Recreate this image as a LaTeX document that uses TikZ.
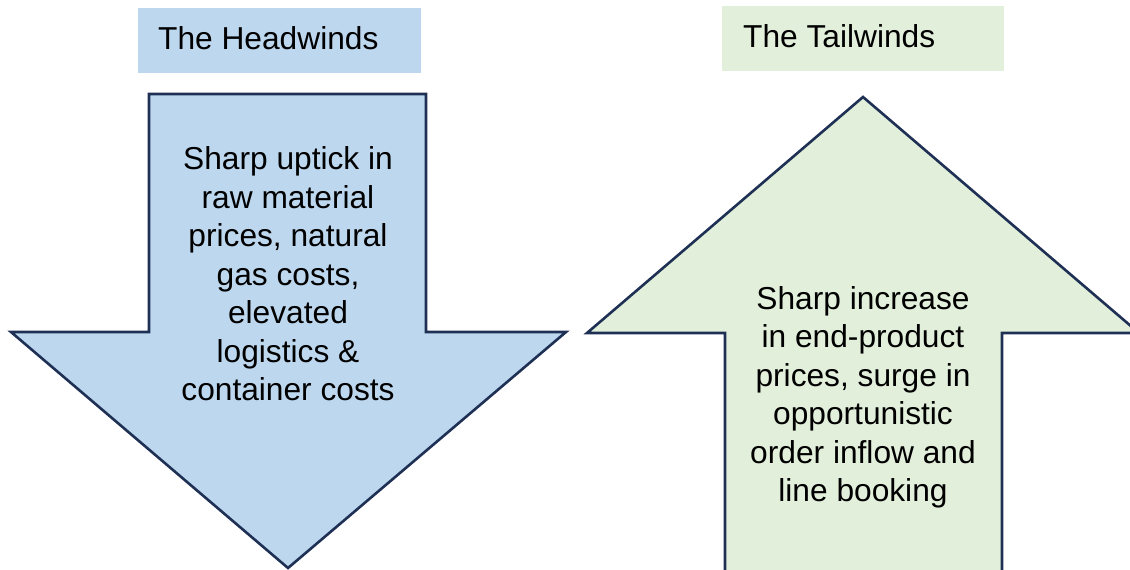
\documentclass[tikz,border=0pt]{standalone}
\usepackage{fontspec}
\setmainfont{Liberation Sans}
\definecolor{headblue}{HTML}{BDD7EE}
\definecolor{tailgreen}{HTML}{E2EFDA}
\definecolor{navy}{HTML}{1F3055}
\tikzset{
  arrowshape/.style={draw=navy, line width=2.6pt, line join=miter},
  bodytext/.style={align=center, font=\fontsize{31.7}{38.5}\selectfont, inner sep=0pt},
  titletext/.style={font=\fontsize{31.7}{38}\selectfont, inner sep=0pt, anchor=base west}
}
\begin{document}
\begin{tikzpicture}[x=1pt,y=-1pt]
\useasboundingbox (0,0) rectangle (1130,570);
\clip (0,0) rectangle (1130,570);
% title boxes
\fill[headblue] (138,8) rectangle (421,73);
\node[titletext] (headtitle) at (158,49) {The Headwinds};
\fill[tailgreen] (722,6) rectangle (1004,71);
\node[titletext] (tailtitle) at (743,47.5) {The Tailwinds};
% down arrow
\draw[arrowshape, fill=headblue] (149,94) -- (426,94) -- (426,332) -- (566,332) -- (288,568) -- (11,332) -- (149,332) -- cycle;
\node[bodytext] (headtext) at (288,274) {Sharp uptick in\\raw material\\prices, natural\\gas costs,\\elevated\\logistics \&\\container costs};
% up arrow
\draw[arrowshape, fill=tailgreen] (725,590) -- (725,333) -- (587,333) -- (863,97) -- (1139,333) -- (1002,333) -- (1002,590) -- cycle;
\node[bodytext] (tailtext) at (863,397.5) {Sharp increase\\in end-product\\prices, surge in\\opportunistic\\order inflow and\\line booking};
\end{tikzpicture}
\end{document}
